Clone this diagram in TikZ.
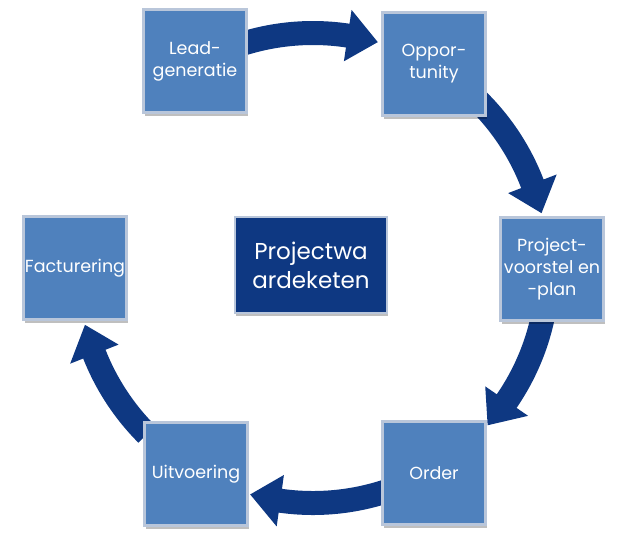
\documentclass[tikz,border=0pt]{standalone}
\usepackage{fontspec}
\setmainfont{Poppins}
\usetikzlibrary{shadows}
\definecolor{boxblue}{RGB}{79,129,189}
\definecolor{navy}{RGB}{14,56,130}
\definecolor{rim}{RGB}{185,198,218}
\newcommand\cyclearrow[2]{%
  \fill[navy] ([shift={(#1:247pt)}]C) arc[start angle=#1, end angle={#2+7.5}, radius=247pt]
    -- ([shift={({#2+7.5}:261pt)}]C) -- ([shift={(#2:235pt)}]C) -- ([shift={({#2+7.5}:209pt)}]C)
    -- ([shift={({#2+7.5}:223pt)}]C) arc[start angle={#2+7.5}, end angle=#1, radius=223pt] -- cycle;}
\begin{document}
\begin{tikzpicture}[x=1pt,y=1pt,
  stage/.style={rectangle, minimum width=103pt, minimum height=103pt, fill=boxblue, draw=rim,
    line width=2.5pt, text=white, align=center, inner sep=1pt,
    font=\fontsize{17.5}{22}\selectfont,
    drop shadow={shadow xshift=1pt, shadow yshift=-3pt, fill=black, opacity=0.25}},
  hub/.style={stage, minimum width=152pt, minimum height=96pt, fill=navy,
    font=\fontsize{23}{29}\selectfont}]
\useasboundingbox (0,0) rectangle (626,-544);
\coordinate (C) at (313,-268);
\cyclearrow{107}{74}
\cyclearrow{46}{13.5}
\cyclearrow{-10}{-42}
\cyclearrow{-71}{-105.5}
\cyclearrow{-135}{-166}
\node[stage] (lead) at (195,-61) {Lead-\\generatie};
\node[stage] (opp) at (434,-64) {Oppor-\\tunity};
\node[stage] (proj) at (552,-269) {Project-\\voorstel en\\-plan};
\node[stage] (order) at (434,-473) {Order};
\node[stage] (uit) at (196,-474) {Uitvoering};
\node[stage] (fact) at (75,-268) {Facturering};
\node[hub] (hubnode) at (311,-265) {Projectwa\\ardeketen};
\end{tikzpicture}
\end{document}
